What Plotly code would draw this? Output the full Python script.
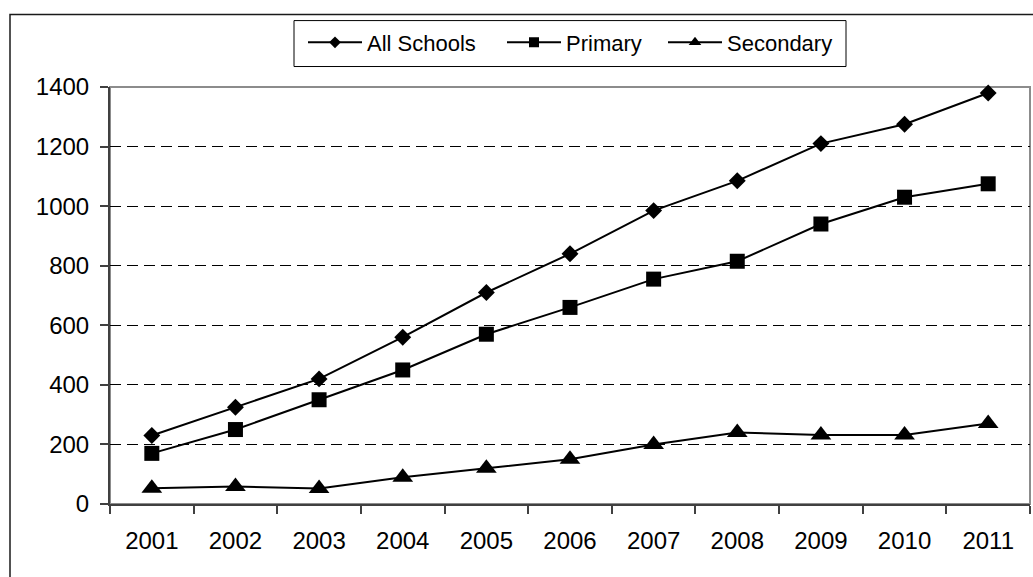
import plotly.graph_objects as go

# Number of schools per year
years = ["2001", "2002", "2003", "2004", "2005", "2006", "2007", "2008", "2009", "2010", "2011"]
all_schools = [230, 325, 420, 560, 710, 840, 985, 1085, 1210, 1275, 1380]
primary = [170, 250, 350, 450, 570, 660, 755, 815, 940, 1030, 1075]
secondary = [53, 59, 52, 90, 120, 150, 200, 240, 232, 232, 270]
y_ticks = [0, 200, 400, 600, 800, 1000, 1200, 1400]

W, H = 1033, 577
ML, MR, MT, MB = 110, 3, 86.5, 73
PW, PH = W - ML - MR, H - MT - MB

FONT = "Liberation Sans, Arial, sans-serif"


def px_x(p):
    return (p - ML) / PW


def px_y(p):
    return (H - MB - p) / PH


# name, values, symbol, marker size, legend marker size, legend id, legend left edge (px)
series = [
    ("All Schools", all_schools, "diamond", 13, 9, "legend", 303),
    ("Primary", primary, "square", 15, 10, "legend2", 502),
    ("Secondary", secondary, "triangle-up", 18, 11, "legend3", 663),
]

fig = go.Figure()
for name, vals, sym, size, leg_size, leg, lx in series:
    fig.add_trace(go.Scatter(
        x=years, y=vals, mode="lines+markers", name=name, showlegend=False,
        line=dict(color="black", width=2),
        marker=dict(symbol=sym, size=size, color="black", line=dict(width=0)),
        cliponaxis=False,
    ))
# legend entries with smaller symbols, one legend per entry inside a shared box
legends = {}
for name, vals, sym, size, leg_size, leg, lx in series:
    fig.add_trace(go.Scatter(
        x=[None], y=[None], mode="lines+markers", name=name, legend=leg,
        line=dict(color="black", width=2),
        marker=dict(symbol=sym, size=leg_size, color="black", line=dict(width=0)),
    ))
    legends[leg] = dict(
        orientation="h", x=px_x(lx), y=px_y(42), xanchor="left", yanchor="middle",
        bgcolor="rgba(0,0,0,0)", borderwidth=0,
        font=dict(size=22, family=FONT, color="black"),
        itemwidth=54,
    )

fig.update_layout(
    width=W, height=H,
    margin=dict(l=ML, r=MR, t=MT, b=MB, autoexpand=False),
    paper_bgcolor="white", plot_bgcolor="white",
    font=dict(family=FONT, color="black"),
    showlegend=True,
    **legends,
    xaxis=dict(
        type="category", range=[-0.5, len(years) - 0.5],
        tickson="boundaries", ticks="outside", ticklen=8, tickwidth=1.5, tickcolor="#404040",
        showline=True, linecolor="#404040", linewidth=2,
        showgrid=False, zeroline=False,
        tickfont=dict(size=24, family=FONT, color="black"),
        ticklabelstandoff=14,
        fixedrange=True,
    ),
    yaxis=dict(
        range=[0, 1400], tickvals=y_ticks, ticks="outside", ticklen=8, tickwidth=1.5,
        tickcolor="#404040",
        showline=True, linecolor="#404040", linewidth=2,
        showgrid=True, gridcolor="black", gridwidth=1, griddash="11px,6px",
        zeroline=False,
        tickfont=dict(size=24, family=FONT, color="black"),
        ticklabelstandoff=6,
        fixedrange=True,
    ),
    shapes=[
        # plot area border
        dict(type="rect", xref="paper", yref="paper", x0=0, y0=0, x1=1, y1=1,
             line=dict(color="#8c8c8c", width=2), layer="between"),
        # outer chart frame
        dict(type="rect", xref="paper", yref="paper",
             x0=px_x(10), y0=px_y(H + 20), x1=px_x(W + 20), y1=px_y(14),
             line=dict(color="#1a1a1a", width=1.5), layer="below"),
        # legend box
        dict(type="rect", xref="paper", yref="paper",
             x0=px_x(294), y0=px_y(66), x1=px_x(846), y1=px_y(20),
             line=dict(color="black", width=1), fillcolor="white", layer="below"),
    ],
)

fig.write_html("out.html")
